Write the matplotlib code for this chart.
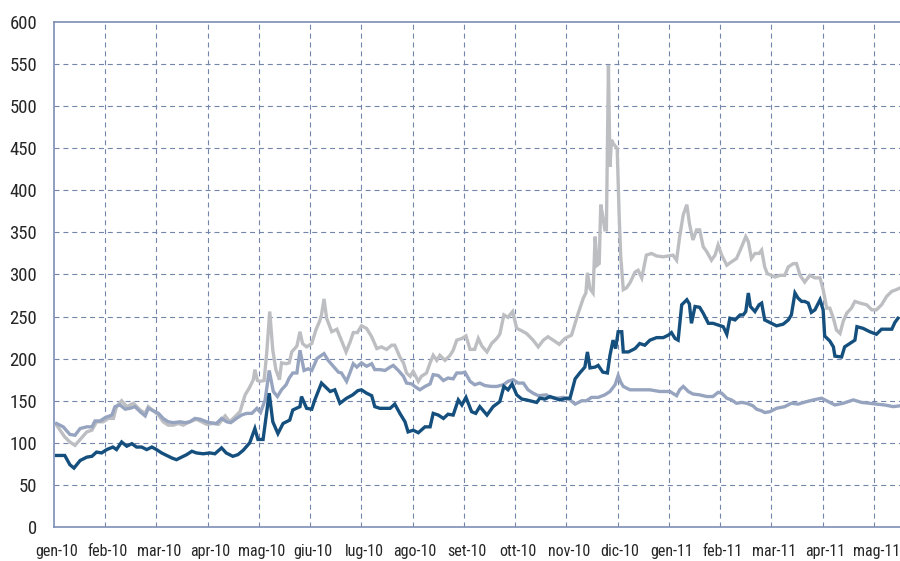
import numpy as np
import matplotlib
matplotlib.use("Agg")
import matplotlib.pyplot as plt
import matplotlib.transforms as mtransforms

# x positions are in months since gen-10 (0 = start of Jan 2010)
month_labels = ["gen-10", "feb-10", "mar-10", "apr-10", "mag-10", "giu-10", "lug-10",
                "ago-10", "set-10", "ott-10", "nov-10", "dic-10", "gen-11", "feb-11",
                "mar-11", "apr-11", "mag-11"]

# Series 1 (dark blue)
s1_x = [0.05, 0.21, 0.31, 0.39, 0.51, 0.64, 0.74, 0.83, 0.93, 1.03, 1.15, 1.22, 1.32, 1.42,
        1.52, 1.61, 1.71, 1.81, 1.91, 2.00, 2.10, 2.20, 2.30, 2.39, 2.49, 2.59, 2.69, 2.78,
        2.91, 3.04, 3.14, 3.27, 3.36, 3.49, 3.59, 3.69, 3.82, 3.92, 3.98, 4.08, 4.20, 4.27,
        4.37, 4.47, 4.60, 4.66, 4.80, 4.83, 4.93, 5.03, 5.09, 5.22, 5.39, 5.48, 5.58, 5.71,
        5.83, 5.93, 6.00, 6.10, 6.20, 6.26, 6.36, 6.46, 6.56, 6.65, 6.75, 6.85, 6.91, 7.01,
        7.11, 7.24, 7.34, 7.40, 7.50, 7.60, 7.69, 7.79, 7.89, 7.96, 8.04, 8.15, 8.23, 8.31,
        8.45, 8.57, 8.70, 8.78, 8.86, 8.94, 9.03, 9.13, 9.22, 9.35, 9.42, 9.48, 9.58, 9.68,
        9.87, 10.00, 10.07, 10.17, 10.26, 10.36, 10.41, 10.46, 10.56, 10.62, 10.71, 10.80,
        10.85, 10.91, 10.96, 11.01, 11.08, 11.11, 11.21, 11.34, 11.43, 11.53, 11.63, 11.76,
        11.89, 11.99, 12.05, 12.12, 12.18, 12.25, 12.35, 12.40, 12.44, 12.51, 12.60, 12.67,
        12.77, 12.86, 12.96, 13.06, 13.13, 13.19, 13.29, 13.39, 13.45, 13.50, 13.55, 13.59,
        13.68, 13.76, 13.81, 13.87, 13.97, 14.10, 14.23, 14.33, 14.39, 14.46, 14.52, 14.59,
        14.65, 14.72, 14.78, 14.85, 14.95, 15.01, 15.04, 15.14, 15.21, 15.24, 15.37, 15.43,
        15.53, 15.63, 15.67, 15.79, 15.92, 16.05, 16.15, 16.25, 16.35, 16.41, 16.47]
s1_y = [85, 85, 74, 70, 79, 83, 84, 89, 88, 92, 95, 92, 101, 96,
        99, 95, 95, 92, 95, 92, 88, 85, 82, 80, 83, 86, 90, 88,
        87, 88, 87, 94, 88, 84, 86, 91, 100, 117, 104, 104, 159, 125,
        111, 123, 127, 139, 143, 155, 141, 140, 151, 171, 161, 163, 147, 153,
        157, 162, 163, 159, 156, 143, 141, 141, 141, 146, 135, 125, 113, 115,
        112, 119, 119, 135, 133, 129, 134, 133, 151, 145, 154, 137, 135, 143,
        133, 143, 149, 167, 163, 170, 157, 152, 151, 149, 148, 153, 152, 155,
        151, 153, 153, 176, 183, 190, 208, 189, 190, 192, 184, 183,
        204, 222, 212, 232, 232, 208, 208, 212, 218, 216, 222, 225,
        225, 228, 231, 224, 222, 264, 270, 265, 242, 262, 261, 254,
        242, 242, 240, 238, 229, 248, 246, 252, 252, 256, 278, 262,
        256, 264, 266, 246, 243, 239, 241, 246, 252, 278, 272, 268,
        268, 266, 255, 258, 270, 258, 227, 221, 214, 203, 202, 214,
        218, 222, 238, 236, 232, 229, 235, 235, 235, 243, 248]

# Series 2 (grey-blue)
s2_x = [0.05, 0.18, 0.31, 0.41, 0.51, 0.64, 0.74, 0.80, 0.90, 1.00, 1.13, 1.19, 1.29, 1.39,
        1.48, 1.58, 1.68, 1.78, 1.84, 1.94, 2.04, 2.13, 2.23, 2.33, 2.46, 2.56, 2.65, 2.75,
        2.85, 2.98, 3.04, 3.17, 3.27, 3.37, 3.45, 3.56, 3.66, 3.76, 3.86, 3.96, 4.03, 4.12,
        4.20, 4.28, 4.36, 4.44, 4.53, 4.59, 4.66, 4.74, 4.80, 4.88, 4.96, 5.03, 5.09, 5.13,
        5.22, 5.27, 5.35, 5.45, 5.55, 5.61, 5.71, 5.78, 5.84, 5.91, 6.00, 6.10, 6.20, 6.26,
        6.36, 6.46, 6.56, 6.62, 6.72, 6.82, 6.88, 6.98, 7.04, 7.14, 7.24, 7.34, 7.40, 7.50,
        7.60, 7.69, 7.79, 7.86, 7.96, 8.02, 8.12, 8.21, 8.31, 8.41, 8.54, 8.64, 8.77, 8.86,
        8.96, 9.06, 9.16, 9.25, 9.35, 9.45, 9.61, 9.68, 9.81, 9.94, 10.07, 10.17, 10.30,
        10.39, 10.49, 10.62, 10.75, 10.85, 10.95, 11.01, 11.06, 11.11, 11.24, 11.40, 11.63,
        11.82, 12.02, 12.15, 12.21, 12.28, 12.38, 12.47, 12.60, 12.74, 12.86, 12.96, 13.03,
        13.13, 13.22, 13.32, 13.42, 13.52, 13.64, 13.71, 13.81, 13.87, 13.97, 14.10, 14.26,
        14.39, 14.52, 14.69, 14.82, 14.98, 15.11, 15.24, 15.40, 15.60, 15.76, 15.92, 16.05,
        16.21, 16.38, 16.51]
s2_y = [123, 119, 110, 109, 117, 119, 119, 126, 126, 130, 133, 143, 145, 140,
        141, 143, 137, 132, 141, 138, 135, 129, 125, 124, 125, 124, 125, 129,
        128, 125, 124, 123, 129, 125, 124, 129, 133, 135, 135, 141, 136, 151,
        186, 161, 155, 163, 169, 177, 183, 183, 210, 186, 188, 186, 194, 200,
        204, 206, 198, 191, 184, 183, 173, 184, 194, 190, 195, 191, 194, 187,
        187, 186, 190, 192, 186, 179, 171, 170, 167, 163, 167, 170, 181, 180,
        174, 177, 176, 183, 183, 184, 173, 169, 171, 168, 167, 167, 169, 173,
        175, 171, 171, 163, 159, 156, 157, 154, 153, 154, 151, 146, 150,
        150, 154, 154, 157, 161, 169, 180, 172, 167, 163, 163, 163,
        161, 161, 156, 163, 167, 161, 158, 157, 155, 155, 160, 159,
        153, 151, 147, 148, 147, 144, 140, 138, 136, 137, 141, 143,
        147, 146, 149, 151, 153, 149, 145, 147, 151, 148, 147, 146,
        145, 143, 144]

# Series 3 (light grey)
s3_x = [0.05, 0.21, 0.31, 0.41, 0.51, 0.64, 0.74, 0.83, 0.96, 1.06, 1.16, 1.22, 1.32, 1.42,
        1.55, 1.68, 1.78, 1.84, 1.94, 2.04, 2.13, 2.23, 2.33, 2.43, 2.52, 2.65, 2.78, 2.88,
        2.98, 3.11, 3.21, 3.34, 3.43, 3.53, 3.63, 3.73, 3.81, 3.89, 3.92, 3.97, 4.02, 4.10,
        4.15, 4.21, 4.27, 4.33, 4.40, 4.44, 4.53, 4.59, 4.64, 4.74, 4.80, 4.85, 4.93, 5.03,
        5.11, 5.18, 5.22, 5.27, 5.32, 5.42, 5.52, 5.58, 5.70, 5.78, 5.84, 5.92, 6.00, 6.10,
        6.20, 6.30, 6.39, 6.49, 6.59, 6.65, 6.75, 6.82, 6.88, 6.95, 7.01, 7.11, 7.17, 7.27,
        7.34, 7.40, 7.47, 7.53, 7.63, 7.73, 7.79, 7.86, 7.96, 8.04, 8.12, 8.21, 8.28, 8.35,
        8.45, 8.54, 8.64, 8.70, 8.78, 8.86, 8.95, 9.03, 9.13, 9.22, 9.35, 9.45, 9.55, 9.64,
        9.74, 9.86, 9.97, 10.10, 10.17, 10.23, 10.33, 10.38, 10.41, 10.46, 10.52, 10.56,
        10.60, 10.64, 10.67, 10.71, 10.75, 10.78, 10.82, 10.85, 10.88, 10.91, 10.96, 10.99,
        11.03, 11.06, 11.11, 11.17, 11.24, 11.34, 11.40, 11.47, 11.56, 11.66, 11.76, 11.89,
        11.99, 12.08, 12.15, 12.21, 12.28, 12.35, 12.40, 12.44, 12.47, 12.54, 12.60, 12.67,
        12.74, 12.83, 12.90, 12.96, 13.03, 13.13, 13.22, 13.32, 13.42, 13.50, 13.55, 13.61,
        13.68, 13.76, 13.81, 13.87, 13.92, 14.00, 14.07, 14.17, 14.26, 14.33, 14.43, 14.49,
        14.56, 14.65, 14.75, 14.85, 14.95, 15.01, 15.08, 15.14, 15.21, 15.27, 15.34, 15.40,
        15.47, 15.56, 15.63, 15.73, 15.86, 15.96, 16.05, 16.15, 16.25, 16.35, 16.44, 16.51]
s3_y = [121, 107, 101, 97, 104, 113, 115, 125, 125, 129, 129, 143, 150, 143,
        147, 139, 135, 143, 138, 133, 125, 121, 121, 123, 121, 125, 128, 125,
        122, 123, 122, 132, 125, 131, 137, 157, 165, 175, 187, 174, 173, 174,
        206, 256, 210, 187, 175, 195, 194, 195, 208, 215, 232, 218, 214, 218,
        234, 244, 252, 271, 248, 232, 235, 226, 208, 220, 231, 231, 239, 236,
        226, 212, 214, 211, 216, 216, 202, 195, 183, 179, 185, 173, 179, 183,
        195, 204, 198, 204, 198, 204, 210, 222, 224, 227, 211, 211, 224, 215,
        208, 218, 224, 229, 252, 249, 256, 236, 233, 230, 222, 214, 222, 226,
        222, 217, 224, 228, 242, 254, 272, 278, 302, 283, 278, 345,
        311, 313, 383, 369, 353, 353, 549, 428, 460, 456, 452, 450,
        369, 321, 282, 284, 290, 303, 305, 296, 323, 325, 322, 321,
        322, 323, 317, 345, 371, 383, 361, 349, 341, 353, 353, 333,
        327, 317, 323, 335, 323, 311, 315, 319, 333, 345, 339, 319,
        325, 325, 329, 309, 301, 299, 297, 299, 299, 309, 313, 313,
        299, 291, 299, 296, 296, 282, 260, 260, 248, 234, 230, 244,
        254, 260, 268, 266, 264, 258, 258, 264, 274, 280, 282, 284]

y_ticks = [0, 50, 100, 150, 200, 250, 300, 350, 400, 450, 500, 550, 600]

c_dark = "#144f7d"
c_mid = "#97a4bf"
c_light = "#bdbec2"
c_grid = "#7384ad"
c_spine = "#7d8db6"
c_text = "#262626"

font_family = ["Roboto Condensed", "Archivo Narrow", "DejaVu Sans"]

fig = plt.figure(figsize=(9.0, 5.61), dpi=100)
ax = fig.add_axes([0.06, 0.0606, 0.94, 0.9002])

ax.plot(s3_x, s3_y, color=c_light, lw=2.4, solid_joinstyle="miter", zorder=3)
ax.plot(s2_x, s2_y, color=c_mid, lw=2.4, solid_joinstyle="miter", zorder=4)
ax.plot(s1_x, s1_y, color=c_dark, lw=2.4, solid_joinstyle="miter", zorder=5)

ax.set_xlim(0, 16.51)
ax.set_ylim(0, 600)

# grid
for m in range(1, len(month_labels)):
    ax.axvline(m, color=c_grid, lw=0.8, linestyle=(0, (4.5, 3.5)), zorder=1)
for yv in y_ticks[1:-1]:
    ax.axhline(yv, color=c_grid, lw=0.8, linestyle=(0, (4.5, 3.5)), zorder=1)

ax.set_xticks(range(len(month_labels)))
ax.set_xticklabels(month_labels)
ax.set_yticks(y_ticks)
ax.tick_params(axis="both", length=0, colors=c_text)
ax.tick_params(axis="x", pad=12, labelsize=11.5)
ax.tick_params(axis="y", pad=12, labelsize=13.5)
for lbl in ax.get_xticklabels() + ax.get_yticklabels():
    lbl.set_family(font_family)
    lbl.set_color(c_text)

offset = mtransforms.ScaledTranslation(2.5 / 100, 0, fig.dpi_scale_trans)
for lbl in ax.get_xticklabels():
    lbl.set_transform(lbl.get_transform() + offset)

for side in ["left", "bottom", "top"]:
    ax.spines[side].set_color(c_spine)
    ax.spines[side].set_linewidth(1.2)
ax.spines["right"].set_visible(False)

fig.savefig("out.png", dpi=100)
